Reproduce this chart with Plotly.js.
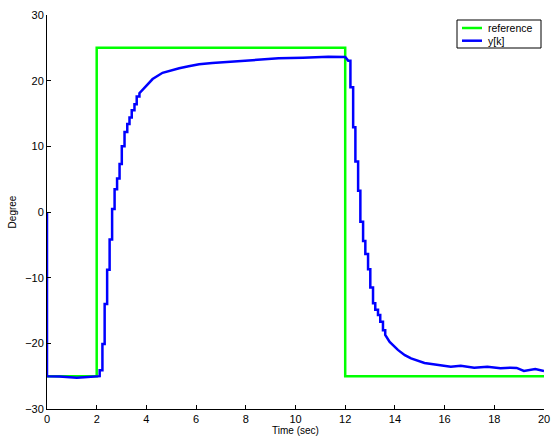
<!DOCTYPE html>
<html>
<head>
<meta charset="utf-8">
<script src="https://cdn.plot.ly/plotly-3.0.1.min.js"></script>
<style>html,body{margin:0;padding:0;background:#fff;}#chart{width:551px;height:438px;}</style>
</head>
<body>
<div id="chart"></div>
<script>
// Reference (set point) signal
const refTime = [0, 2, 2, 12, 12, 20];
const refValue = [-25, -25, 25, 25, -25, -25];

// Measured output y[k]; stair corners listed where the samples are visible
const yTime = [0, 0, 0.5, 1.0, 1.2, 1.5, 1.8, 2.12,
  2.12, 2.23, 2.23, 2.32, 2.32, 2.42, 2.42, 2.52, 2.52, 2.62, 2.62, 2.72, 2.72, 2.82, 2.82, 2.92, 2.92, 3.01, 3.01,
  3.12, 3.12, 3.23, 3.23, 3.32, 3.32, 3.41, 3.41, 3.52, 3.52, 3.61, 3.61, 3.72, 3.72,
  3.99, 4.25, 4.65, 5.0, 5.32, 5.7, 6.12, 6.65, 7.3, 8.0, 9.32, 10.3, 11.32, 12.0,
  12.12, 12.21, 12.21, 12.32, 12.32, 12.41, 12.41, 12.52, 12.52, 12.61, 12.61, 12.72, 12.72, 12.81, 12.81,
  12.92, 12.92, 13.01, 13.01, 13.12, 13.12, 13.21, 13.21, 13.32, 13.32, 13.41, 13.41, 13.52, 13.52, 13.61, 13.61,
  13.79, 14.12, 14.4, 14.65, 15.19, 15.7, 16.25, 16.65, 17.19, 17.72, 18.25, 18.65, 18.9, 19.19, 19.65, 20.0];
const yValue = [0, -25, -25.05, -25.2, -25.25, -25.15, -25.05, -25.0,
  -24.1, -24.1, -20.1, -20.1, -14.0, -14.0, -8.8, -8.8, -4.2, -4.2, 0.45, 0.45, 3.45, 3.45, 5.1, 5.1, 7.3, 7.3, 10.0,
  10.0, 12.2, 12.2, 13.4, 13.4, 14.4, 14.4, 15.5, 15.5, 16.4, 16.4, 17.6, 17.6, 18.1,
  19.2, 20.25, 21.2, 21.6, 21.9, 22.2, 22.5, 22.7, 22.85, 23.0, 23.4, 23.5, 23.65, 23.6,
  23.05, 23.05, 19.0, 19.0, 12.9, 12.9, 7.7, 7.7, 3.25, 3.25, -1.5, -1.5, -4.4, -4.4, -6.4,
  -6.4, -8.7, -8.7, -11.5, -11.5, -13.9, -13.9, -14.9, -14.9, -15.7, -15.7, -16.7, -16.7, -18.0, -18.0, -18.7,
  -19.8, -21.0, -21.8, -22.3, -23.0, -23.3, -23.55, -23.4, -23.7, -23.55, -23.8, -23.7, -23.75, -24.2, -23.9, -24.2];

const xTicks = [0, 2, 4, 6, 8, 10, 12, 14, 16, 18, 20];
const yTicks = [-30, -20, -10, 0, 10, 20, 30];
const legendNames = ['reference', 'y[k]'];
const legendColors = ['#00ff00', '#0000ff'];

const FAM = 'Liberation Sans, Arial, Helvetica, sans-serif';
const font = {family: FAM, size: 11, color: '#000'};

// plot area geometry (px) used to place the hand-drawn legend box
const W = 551, H = 438, ML = 47, MR = 7, MT = 15, MB = 29;
const PW = W - ML - MR, PH = H - MT - MB;
const px = v => (v - ML) / PW;
const py = v => (H - MB - v) / PH;

const data = [
  {x: refTime, y: refValue, type: 'scatter', mode: 'lines', name: legendNames[0],
   line: {color: legendColors[0], width: 2.5}},
  {x: yTime, y: yValue, type: 'scatter', mode: 'lines', name: legendNames[1],
   line: {color: legendColors[1], width: 2.5}}
];

const shapes = [
  {type: 'rect', xref: 'paper', yref: 'paper', x0: px(457), x1: px(541), y0: py(48), y1: py(20),
   line: {color: '#000', width: 1}, fillcolor: '#fff', layer: 'above'}
];
const annotations = [];
legendNames.forEach((name, i) => {
  const yc = 28 + i * 12.7;
  shapes.push({type: 'line', xref: 'paper', yref: 'paper', x0: px(462), x1: px(482), y0: py(yc), y1: py(yc),
    line: {color: legendColors[i], width: 2.5}, layer: 'above'});
  annotations.push({xref: 'paper', yref: 'paper', x: px(486), y: py(yc), xanchor: 'left', yanchor: 'middle',
    text: name, showarrow: false, font: {family: FAM, size: 10.5, color: '#000'}});
});

const layout = {
  width: W, height: H,
  margin: {l: ML, r: MR, t: MT, b: MB},
  paper_bgcolor: '#fff', plot_bgcolor: '#fff',
  font: font,
  showlegend: false,
  shapes: shapes,
  annotations: annotations,
  xaxis: {range: [0, 20], tickvals: xTicks, ticktext: xTicks.map(String), ticklabeloverflow: 'allow',
    showgrid: false, zeroline: false, showline: true, linecolor: '#000', linewidth: 1,
    ticks: 'inside', ticklen: 4, tickcolor: '#000', tickfont: font,
    title: {text: 'Time (sec)', font: {family: FAM, size: 10, color: '#000'}, standoff: 2}},
  yaxis: {range: [-30, 30], tickvals: yTicks,
    showgrid: false, zeroline: false, showline: true, linecolor: '#000', linewidth: 1,
    ticks: 'inside', ticklen: 4, tickcolor: '#000', tickfont: font,
    title: {text: 'Degree', font: {family: FAM, size: 10, color: '#000'}, standoff: 6}}
};

Plotly.newPlot('chart', data, layout, {displayModeBar: false, staticPlot: true});
</script>
</body>
</html>
